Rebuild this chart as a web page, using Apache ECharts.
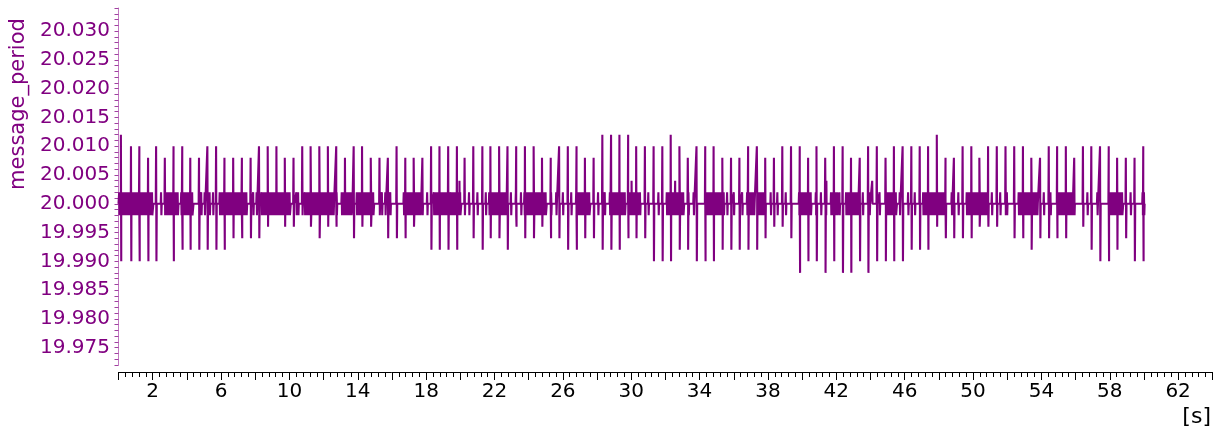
<!DOCTYPE html>
<html><head><meta charset="utf-8">
<script src="https://cdn.jsdelivr.net/npm/echarts@6/dist/echarts.min.js"></script>
<style>html,body{margin:0;padding:0;background:#fff}#c{width:1224px;height:437px}</style>
</head><body><div id="c"></div><script>
// ---- data ----
const baseValue = 20.000;
const startTime = 0.0;
const endTime = 60.05;

// large jitter events: time [s], longer period, following shorter period
const spikeTimes = [
 0.14,0.73,1.22,1.73,2.20,2.71,3.22,3.73,4.20,4.71,5.20,5.71,6.20,6.71,7.22,7.73,8.22,8.73,9.24,9.73,
 10.24,10.75,11.24,11.75,12.25,12.74,13.25,13.76,14.25,14.76,15.27,15.76,16.27,16.78,17.27,17.78,18.29,18.78,19.29,19.80,
 20.25,20.76,21.29,21.76,22.27,22.76,23.27,23.78,24.29,24.78,25.29,25.78,26.29,26.80,27.29,27.80,28.31,28.82,29.31,29.82,
 30.29,30.80,31.31,31.82,32.31,32.82,33.31,33.82,34.33,34.82,35.33,35.84,36.33,36.84,37.35,37.84,38.35,38.84,39.35,39.86,
 40.35,40.84,41.35,41.86,42.37,42.86,43.37,43.86,44.37,44.88,45.37,45.88,46.39,46.88,47.37,47.88,48.39,48.88,49.39,49.90,
 50.37,50.88,51.39,51.90,52.41,52.92,53.41,53.92,54.43,54.92,55.43,55.92,56.43,56.92,57.43,57.94,58.43,58.94,59.45,59.96
];
const spikeHigh = [
 20.012,20.010,20.010,20.008,20.010,20.008,20.010,20.010,20.008,20.008,20.010,20.010,20.008,20.008,20.008,20.008,20.010,20.010,20.010,20.008,
 20.008,20.010,20.010,20.010,20.010,20.010,20.008,20.010,20.010,20.008,20.008,20.008,20.010,20.008,20.008,20.008,20.010,20.010,20.010,20.010,
 20.008,20.010,20.010,20.010,20.010,20.010,20.010,20.010,20.010,20.008,20.008,20.010,20.010,20.010,20.008,20.008,20.012,20.012,20.012,20.012,
 20.010,20.010,20.010,20.010,20.012,20.010,20.008,20.010,20.010,20.010,20.008,20.008,20.008,20.010,20.010,20.008,20.008,20.010,20.010,20.010,
 20.008,20.010,20.008,20.010,20.010,20.008,20.008,20.010,20.010,20.008,20.010,20.010,20.010,20.010,20.010,20.012,20.008,20.008,20.010,20.010,
 20.008,20.010,20.010,20.010,20.010,20.010,20.008,20.008,20.010,20.010,20.010,20.008,20.010,20.010,20.010,20.010,20.008,20.008,20.008,20.010
];
const spikeLow = [
 19.990,19.990,19.990,19.990,19.990,19.998,19.990,19.992,19.992,19.992,19.992,19.992,19.992,19.994,19.994,19.994,19.994,19.996,19.998,19.996,
 19.996,19.998,19.996,19.994,19.996,19.996,19.998,19.994,19.996,19.996,19.998,19.994,19.994,19.994,19.996,19.998,19.992,19.992,19.992,19.992,
 19.998,19.994,19.992,19.994,19.994,19.992,19.996,19.994,19.994,19.996,19.994,19.994,19.992,19.992,19.994,19.994,19.992,19.992,19.992,19.994,
 19.994,19.994,19.990,19.990,19.990,19.992,19.992,19.990,19.990,19.990,19.992,19.992,19.992,19.992,19.992,19.994,19.996,19.996,19.994,19.988,
 19.990,19.990,19.988,19.990,19.988,19.988,19.990,19.988,19.990,19.990,19.990,19.990,19.992,19.992,19.992,19.996,19.994,19.994,19.994,19.994,
 19.996,19.996,19.996,19.998,19.994,19.994,19.992,19.994,19.994,19.994,19.994,19.998,19.996,19.992,19.990,19.990,19.992,19.994,19.990,19.990
];

// dense +/-0.002 alternation regions [s]
const blockStart = [0.04,2.78,3.67,5.92,8.37,10.90,11.69,13.06,13.94,16.69,18.45,19.43,21.69,23.75,26.78,28.94,29.82,32.08,34.33,36.78,37.37,39.82,41.69,42.57,44.92,47.08,49.63,52.67,54.92,57.96,59.92];
const blockEnd   = [2.00,3.47,4.35,7.49,10.04,11.59,12.47,13.65,14.92,17.67,19.24,20.02,22.67,25.02,27.57,29.63,30.41,33.06,35.41,37.18,37.86,40.51,42.08,43.25,45.51,48.35,50.90,53.65,55.80,58.75,60.00];
const blockHigh = 20.002;
const blockLow = 19.998;

// isolated single +/-0.002 toggles [s]
const toggleTimes = [2.49,4.84,5.04,5.33,5.53,7.88,8.08,9.92,10.41,10.51,12.57,12.76,15.41,15.61,15.90,18.06,20.51,21.00,21.49,22.96,23.25,23.55,25.31,25.61,26.00,26.49,28.06,28.45,28.75,30.51,31.00,31.59,33.35,33.65,35.61,36.00,36.49,38.16,38.55,39.04,40.80,41.10,41.39,42.18,43.55,43.94,44.53,45.71,46.20,46.59,48.75,49.14,51.10,51.59,51.98,53.75,54.14,54.53,56.69,57.27,59.22];

// small single bumps
const bumpTimes = [19.95,30.02,32.57,41.42,44.10];
const bumpValue = 20.004;

const sampleStep = 0.02; // one message period

const xLabelValues = [2,6,10,14,18,22,26,30,34,38,42,46,50,54,58,62];
const yLabelValues = [19.975,19.980,19.985,19.990,19.995,20.000,20.005,20.010,20.015,20.020,20.025,20.030];

// ---- build the series from the read events ----
const pts = [];
spikeTimes.forEach((t,i)=>{
  pts.push([t-sampleStep, baseValue],[t, spikeHigh[i]],[t+sampleStep, spikeLow[i]],[t+2*sampleStep, baseValue]);
});
blockStart.forEach((s,i)=>{
  const e = blockEnd[i];
  pts.push([s-sampleStep, baseValue]);
  for(let t=s; t<=e; t+=2*sampleStep){ pts.push([t, blockHigh],[t+sampleStep, blockLow]); }
  pts.push([e+2*sampleStep, baseValue]);
});
toggleTimes.forEach(t=>{
  pts.push([t-sampleStep, baseValue],[t, blockHigh],[t+sampleStep, blockLow],[t+2*sampleStep, baseValue]);
});
bumpTimes.forEach(t=>{
  pts.push([t-sampleStep, baseValue],[t, bumpValue],[t+sampleStep, baseValue]);
});
pts.push([startTime, baseValue],[endTime, baseValue]);
pts.sort((a,b)=>a[0]-b[0]);

const FONT = 'DejaVu Sans';
const chart = echarts.init(document.getElementById('c'), null, {renderer:'canvas'});
chart.setOption({
  animation:false,
  backgroundColor:'#ffffff',
  grid:{left:118.5, right:11.7, top:8, bottom:72, containLabel:false},
  xAxis:{
    type:'value', min:0, max:64, interval:2, offset:7,
    axisLine:{show:true, lineStyle:{color:'#000', width:1}},
    axisTick:{show:true, length:8, lineStyle:{color:'#000'}},
    minorTick:{show:true, splitNumber:5, length:5, lineStyle:{color:'#000'}},
    splitLine:{show:false}, minorSplitLine:{show:false},
    axisLabel:{margin:10, color:'#000', fontFamily:FONT, fontSize:20,
      formatter:v=>xLabelValues.indexOf(Math.round(v))>=0 && Math.abs(v-Math.round(v))<1e-6 ? String(Math.round(v)) : ''}
  },
  yAxis:{
    type:'value', min:19.972, max:20.034, interval:0.001, offset:2.5,
    axisLine:{show:true, lineStyle:{color:'#c27ac2', width:1}},
    axisTick:{show:true, length:4, lineStyle:{color:'#a040a0'}},
    splitLine:{show:false},
    axisLabel:{margin:6, color:'#800080', fontFamily:FONT, fontSize:20,
      formatter:v=>{const k=Math.round(v*1000); const hit=yLabelValues.find(y=>Math.round(y*1000)===k); return hit!==undefined ? hit.toFixed(3) : '';}}
  },
  graphic:[
    {type:'text', x:19, y:104, rotation:Math.PI/2,
     style:{text:'message_period', fill:'#800080', font:'21px "DejaVu Sans"', align:'center', verticalAlign:'middle'}},
    {type:'text', right:13, top:406,
     style:{text:'[s]', fill:'#000', font:'22px "DejaVu Sans"'}}
  ],
  series:[{
    type:'line', data:pts, symbol:'none', showSymbol:false, silent:true,
    lineStyle:{color:'#800080', width:2.1}
  }]
});
</script></body></html>
